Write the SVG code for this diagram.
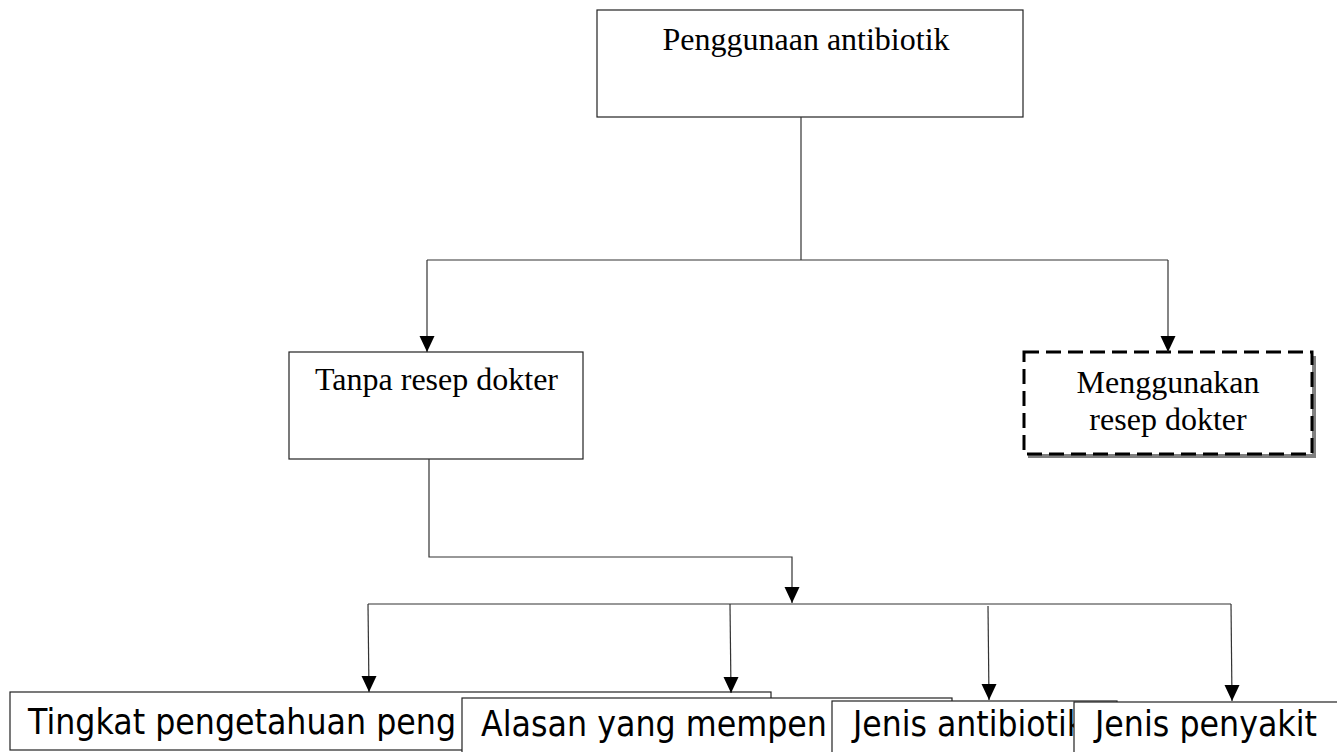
<svg xmlns="http://www.w3.org/2000/svg" width="1337" height="752" viewBox="0 0 1337 752">
<style>
.box{fill:#fff;stroke:#222;stroke-width:1.2}
.serif{font-family:"Liberation Serif","Times New Roman",serif;font-size:32px;fill:#000}
.sans{font-family:"DejaVu Sans",sans-serif;font-size:35px;fill:#000}
.ln{fill:none;stroke:#333;stroke-width:1.2}
.dash{fill:#fff;stroke:#000;stroke-width:3;stroke-dasharray:15 7}
</style>
<defs>
<marker id="arr" markerUnits="userSpaceOnUse" markerWidth="18" markerHeight="18" viewBox="0 0 18 18" refX="9" refY="17" orient="0">
<path d="M1.5,1 L16.5,1 L9,17 Z" fill="#000"/>
</marker>
</defs>
<rect width="1337" height="752" fill="#fff"/>
<g id="node-penggunaan">
<rect class="box" x="597" y="10" width="426" height="107"/>
<text class="serif" x="806" y="50" text-anchor="middle">Penggunaan antibiotik</text>
</g>
<g id="node-tanpa">
<rect class="box" x="289" y="352" width="294" height="107"/>
<text class="serif" x="436.5" y="390" text-anchor="middle">Tanpa resep dokter</text>
</g>
<g id="node-menggunakan">
<rect x="1028" y="356" width="288" height="102" fill="#808080"/>
<rect class="dash" x="1024" y="352" width="288" height="102"/>
<text class="serif" x="1168" y="393" text-anchor="middle">Menggunakan</text>
<text class="serif" x="1168" y="430" text-anchor="middle">resep dokter</text>
</g>
<g id="node-tingkat">
<rect class="box" x="10" y="692" width="761" height="58"/>
<text class="sans" x="28" y="734" textLength="428" lengthAdjust="spacingAndGlyphs">Tingkat pengetahuan peng</text>
</g>
<g id="node-alasan">
<rect class="box" x="462" y="698" width="490" height="80"/>
<text class="sans" x="481" y="736" textLength="346" lengthAdjust="spacingAndGlyphs">Alasan yang mempen</text>
</g>
<g id="node-jenis-antibiotik">
<rect class="box" x="832" y="701" width="285" height="80"/>
<text class="sans" x="853" y="736" textLength="232" lengthAdjust="spacingAndGlyphs">Jenis antibiotik</text>
</g>
<g id="node-jenis-penyakit">
<rect class="box" x="1074" y="702" width="280" height="80"/>
<text class="sans" x="1095" y="736" textLength="222" lengthAdjust="spacingAndGlyphs">Jenis penyakit</text>
</g>
<g id="connectors">
<polyline class="ln" points="801,117 801,260"/>
<polyline class="ln" points="427,260 1168,260"/>
<polyline class="ln" points="427,260 427,352" marker-end="url(#arr)"/>
<polyline class="ln" points="1168,260 1168,352" marker-end="url(#arr)"/>
<polyline class="ln" points="429,459 429,557 792,557 792,603" marker-end="url(#arr)"/>
<polyline class="ln" points="368,604 1231,604"/>
<polyline class="ln" points="368,604 369,692" marker-end="url(#arr)"/>
<polyline class="ln" points="730,604 731,693" marker-end="url(#arr)"/>
<polyline class="ln" points="988,606 989,700" marker-end="url(#arr)"/>
<polyline class="ln" points="1231,604 1232,701" marker-end="url(#arr)"/>
</g>
</svg>
